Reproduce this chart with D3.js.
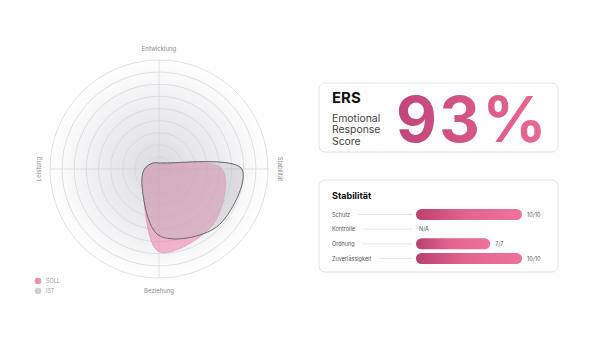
<!DOCTYPE html>
<html>
<head>
<meta charset="utf-8">
<script src="https://cdn.jsdelivr.net/npm/d3@7"></script>
<style>
  html, body { margin: 0; padding: 0; background: #fff; }
  svg { display: block; font-family: Inter, "Noto Sans", sans-serif; }
</style>
</head>
<body>
<svg id="chart" width="600" height="338"></svg>
<script>
// radar axes (labelled) and series sampled every 45° clockwise from the top (0-100)
const axes = ['Entwicklung', 'Stabilität', 'Beziehung', 'Leistung'];
const sollValues = [5.5, 7.8, 58, 71, 76, 21, 13.3, 7.8];
const istValues = [5.5, 7.8, 76, 75, 61, 22, 13.3, 7.8];
const ringLevels = [11.1, 22.2, 33.3, 44.4, 55.6, 66.7, 77.8, 88.9, 100];
const legendLabels = ['SOLL', 'IST'];

// score card
const scoreTitle = 'ERS';
const scoreSubtitle = ['Emotional', 'Response', 'Score'];
const scoreValue = 93;

// Stabilität rows
const stabTitle = 'Stabilität';
const stabLabels = ['Schutz', 'Kontrolle', 'Ordnung', 'Zuverlässigkeit'];
const stabValues = [10, null, 7, 10];
const stabTexts = ['10/10', 'N/A', '7/7', '10/10'];

const svg = d3.select('#chart');
const defs = svg.append('defs');

// 背景渐变
const bg = defs.append('radialGradient').attr('id', 'radarBg');
bg.append('stop').attr('offset', '0%').attr('stop-color', '#dcdce0');
bg.append('stop').attr('offset', '55%').attr('stop-color', '#ededf0');
bg.append('stop').attr('offset', '100%').attr('stop-color', '#ffffff');

const pink = defs.append('linearGradient').attr('id', 'pinkGrad')
  .attr('x1', '0%').attr('x2', '100%').attr('y1', '0%').attr('y2', '0%');
pink.append('stop').attr('offset', '0%').attr('stop-color', '#c0457a');
pink.append('stop').attr('offset', '100%').attr('stop-color', '#ec6994');

const barGrad = defs.append('linearGradient').attr('id', 'barGrad')
  .attr('x1', '0%').attr('x2', '100%').attr('y1', '0%').attr('y2', '0%');
barGrad.append('stop').attr('offset', '0%').attr('stop-color', '#b9406f');
barGrad.append('stop').attr('offset', '45%').attr('stop-color', '#e2638f');
barGrad.append('stop').attr('offset', '100%').attr('stop-color', '#ee7399');

// ---------- radar ----------
const cx = 159, cy = 169, R = 109;
const rScale = d3.scaleLinear().domain([0, 100]).range([0, R]);
const axisAngle = d3.scaleLinear().domain([0, axes.length]).range([0, 2 * Math.PI]);
const sampleAngle = d3.scaleLinear().domain([0, istValues.length]).range([0, 2 * Math.PI]);

const radar = svg.append('g').attr('transform', `translate(${cx}, ${cy})`);

radar.append('circle').attr('r', R).attr('fill', 'url(#radarBg)');

radar.selectAll('.ring')
  .data(ringLevels)
  .join('circle')
  .attr('class', 'ring')
  .attr('r', d => rScale(d))
  .attr('fill', 'none')
  .attr('stroke', '#d4d4d8')
  .attr('stroke-width', 0.7);

radar.selectAll('.spoke')
  .data(axes)
  .join('line')
  .attr('class', 'spoke')
  .attr('x1', 0).attr('y1', 0)
  .attr('x2', (d, i) => Math.sin(axisAngle(i)) * R)
  .attr('y2', (d, i) => -Math.cos(axisAngle(i)) * R)
  .attr('stroke', '#d4d4d8')
  .attr('stroke-width', 0.7);

const shape = d3.lineRadial()
  .angle((d, i) => sampleAngle(i))
  .radius(d => rScale(d))
  .curve(d3.curveCatmullRomClosed.alpha(0.5));

radar.append('path')
  .attr('d', shape(sollValues))
  .attr('fill', 'rgba(236, 118, 160, 0.52)')
  .attr('stroke', 'rgba(225, 110, 150, 0.6)')
  .attr('stroke-width', 0.6);

radar.append('path')
  .attr('d', shape(istValues))
  .attr('fill', 'rgba(185, 185, 192, 0.4)')
  .attr('stroke', '#6a6a6e')
  .attr('stroke-width', 1);

// 轴标签
const labelOffset = 12;
radar.selectAll('.axis-label')
  .data(axes)
  .join('text')
  .attr('class', 'axis-label')
  .attr('transform', (d, i) => {
    const a = axisAngle(i);
    const x = Math.sin(a) * (R + labelOffset);
    const y = -Math.cos(a) * (R + labelOffset);
    let rot = 0;
    if (i === 1) rot = 90;
    if (i === 3) rot = -90;
    return `translate(${x}, ${y}) rotate(${rot})`;
  })
  .attr('text-anchor', 'middle')
  .attr('dominant-baseline', 'central')
  .attr('font-size', 6)
  .attr('fill', '#8a8a8e')
  .text(d => d);

// legend
const legend = svg.append('g').attr('transform', 'translate(38, 281)');
const legendColors = ['#ef92b3', '#cfcfd3'];
legend.selectAll('circle')
  .data(legendLabels)
  .join('circle')
  .attr('cy', (d, i) => i * 10)
  .attr('r', 3.3)
  .attr('fill', (d, i) => legendColors[i]);
legend.selectAll('text')
  .data(legendLabels)
  .join('text')
  .attr('x', 8)
  .attr('y', (d, i) => i * 10)
  .attr('dominant-baseline', 'central')
  .attr('font-size', 5.5)
  .attr('fill', '#a0a0a4')
  .text(d => d);

// ---------- ERS card ----------
const card1 = svg.append('g').attr('transform', 'translate(319, 83)');
card1.append('rect')
  .attr('width', 239).attr('height', 69).attr('rx', 6)
  .attr('fill', '#fff').attr('stroke', '#dcdcdf').attr('stroke-width', 0.8);
card1.append('text')
  .attr('x', 13).attr('y', 20)
  .attr('font-size', 15).attr('font-weight', 700).attr('fill', '#111')
  .text(scoreTitle);
card1.selectAll('.sub')
  .data(scoreSubtitle)
  .join('text')
  .attr('class', 'sub')
  .attr('x', 13)
  .attr('y', (d, i) => 39 + i * 11.4)
  .attr('font-size', 10.4)
  .attr('fill', '#444')
  .text(d => d);
card1.append('text')
  .attr('x', 230).attr('y', 59)
  .attr('text-anchor', 'end')
  .attr('font-size', 63).attr('font-weight', 700)
  .attr('letter-spacing', 2.5)
  .attr('fill', 'url(#pinkGrad)')
  .text(d3.format('d')(scoreValue) + '%');

// ---------- Stabilität card ----------
const card2 = svg.append('g').attr('transform', 'translate(319, 180)');
card2.append('rect')
  .attr('width', 239).attr('height', 92).attr('rx', 6)
  .attr('fill', '#fff').attr('stroke', '#dcdcdf').attr('stroke-width', 0.8);
card2.append('text')
  .attr('x', 13).attr('y', 19)
  .attr('font-size', 9).attr('font-weight', 700).attr('fill', '#111')
  .text(stabTitle);

const xBar = d3.scaleLinear().domain([0, 10]).range([97, 203]);
const yRow = d3.scalePoint().domain(stabLabels).range([34.5, 78.5]);
const barH = 11;

const rows = card2.selectAll('.row')
  .data(stabLabels)
  .join('g')
  .attr('class', 'row')
  .attr('transform', d => `translate(0, ${yRow(d)})`);

rows.append('text')
  .attr('x', 13)
  .attr('dominant-baseline', 'central')
  .attr('font-size', 5.5)
  .attr('fill', '#555')
  .text(d => d);

rows.each(function(d, i) {
  const g = d3.select(this);
  const textW = this.querySelector('text').getComputedTextLength();
  g.append('line')
    .attr('x1', 13 + textW + 8).attr('x2', 93)
    .attr('stroke', '#dadadd').attr('stroke-width', 0.7);

  const v = stabValues[i];
  if (v !== null) {
    g.append('rect')
      .attr('x', xBar(0)).attr('y', -barH / 2)
      .attr('width', xBar(v) - xBar(0)).attr('height', barH)
      .attr('rx', barH / 2)
      .attr('fill', 'url(#barGrad)');
  }
  g.append('text')
    .attr('x', v !== null ? xBar(v) + 5 : xBar(0) + 3)
    .attr('dominant-baseline', 'central')
    .attr('font-size', 5.5)
    .attr('fill', '#555')
    .text(stabTexts[i]);
});
</script>
</body>
</html>
